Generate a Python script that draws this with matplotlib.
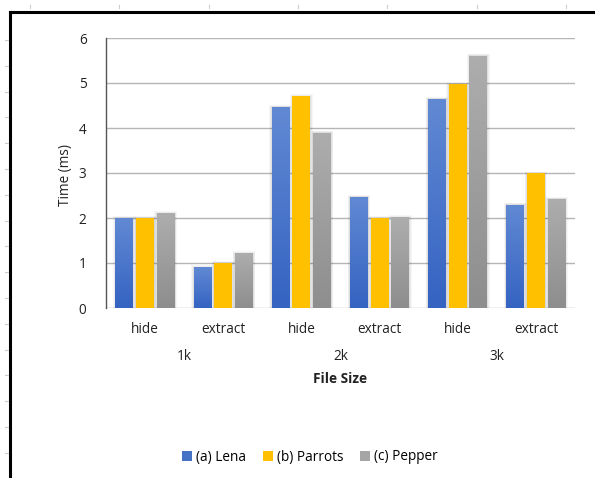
import numpy as np
import matplotlib
matplotlib.use("Agg")
import matplotlib.pyplot as plt
from matplotlib.lines import Line2D
from matplotlib.patches import Rectangle
from matplotlib.colors import LinearSegmentedColormap

plt.rcParams['font.family'] = ['Open Sans', 'DejaVu Sans']

operations = ["hide", "extract", "hide", "extract", "hide", "extract"]
file_sizes = ["1k", "2k", "3k"]
series_names = ["(a) Lena", "(b) Parrots", "(c) Pepper"]
lena = [2.00, 0.91, 4.47, 2.47, 4.65, 2.30]
parrots = [2.00, 1.00, 4.71, 2.00, 4.97, 2.99]
pepper = [2.11, 1.22, 3.90, 2.02, 5.61, 2.43]
y_ticks = [0, 1, 2, 3, 4, 5, 6]

series = [lena, parrots, pepper]
# (top colour, bottom colour) for each series gradient
grads = [("#6189D3", "#3563C2"), ("#FFC000", "#FFC000"), ("#ADADAD", "#8E8E8E")]
legend_colors = ["#4472C4", "#FFC000", "#A5A5A5"]

W, H = 595, 478
FS = 9.8
TXT = "#222222"
fig = plt.figure(figsize=(W / 100, H / 100), dpi=100)
ax = fig.add_axes([106 / W, 1 - 308 / H, (575 - 106) / W, (308 - 38) / H])

n = len(operations)
x = np.arange(n)
bw = 0.23
step = 0.265

def grad_bar(ax, x0, h, c_top, c_bot):
    # soft shadow
    for k, a in enumerate([0.035, 0.04, 0.05]):
        pad = 0.03 - k * 0.01
        ax.add_patch(Rectangle((x0 - pad, 0), bw + 2 * pad, h + pad * 1.2,
                               facecolor="black", edgecolor="none", alpha=a, zorder=2))
    rect = Rectangle((x0, 0), bw, h, facecolor="none", edgecolor="none", zorder=3)
    ax.add_patch(rect)
    cmap = LinearSegmentedColormap.from_list("g", [c_bot, c_top])
    grad = np.linspace(0, 1, 64).reshape(-1, 1)
    im = ax.imshow(grad, cmap=cmap, aspect="auto", origin="lower",
                   extent=(x0, x0 + bw, 0, h), zorder=3, interpolation="bilinear")
    im.set_clip_path(rect)

for si, vals in enumerate(series):
    for i, v in enumerate(vals):
        x0 = x[i] + (si - 1) * step - bw / 2
        grad_bar(ax, x0, v, *grads[si])

ax.set_xlim(-0.5, n - 0.5)
ax.set_ylim(0, 6)
ax.set_yticks(y_ticks)
ax.set_yticklabels([str(t) for t in y_ticks], fontsize=FS, color=TXT)
ax.set_xticks(x)
ax.set_xticklabels(operations, fontsize=FS, color=TXT)
ax.tick_params(axis="y", length=0, pad=14)
ax.tick_params(axis="x", length=0, pad=10)
ax.grid(axis="y", color="#B5B5B5", linewidth=1.0, zorder=0)
ax.set_axisbelow(True)
for s in ["top", "right", "bottom"]:
    ax.spines[s].set_visible(False)
ax.spines["left"].set_color("#555555")
ax.spines["left"].set_linewidth(1.0)
ax.spines["left"].set_zorder(5)

# group labels under each pair of operations
for gi, g in enumerate(file_sizes):
    ax.text(2 * gi + 0.5, -(357 - 308) / 270, g, transform=ax.get_xaxis_transform(),
            ha="center", va="center", fontsize=FS, color=TXT)
fig.text(340 / W, 1 - 379 / H, "File Size", ha="center", va="center",
         fontsize=FS, fontweight="bold", color=TXT)
fig.text(66 / W, 1 - 175 / H, "Time (ms)", ha="center", va="center",
         rotation=90, fontsize=FS, color=TXT)

handles = [Rectangle((0, 0), 1, 1, facecolor=c, edgecolor="none") for c in legend_colors]
fig.legend(handles, series_names, loc="center", bbox_to_anchor=(310 / W, 1 - 457 / H),
           ncol=3, frameon=False, fontsize=FS, handlelength=0.75, handleheight=0.75,
           handletextpad=0.3, columnspacing=1.2)

# outer frame
fig.add_artist(Line2D([10 / W, 10 / W], [0, 1 - 12 / H], color="black", linewidth=2.2,
                      transform=fig.transFigure, solid_capstyle="projecting"))
fig.add_artist(Line2D([10 / W, 1], [1 - 12 / H, 1 - 12 / H], color="black", linewidth=2.2,
                      transform=fig.transFigure, solid_capstyle="projecting"))
# faint ruler ticks
for tx in np.arange(30, W, 89.3):
    fig.add_artist(Line2D([tx / W, tx / W], [1 - 5 / H, 1 - 8 / H], color="#CCCCCC",
                          linewidth=0.8, transform=fig.transFigure))
for ty in np.arange(40, H, 25.8):
    fig.add_artist(Line2D([5 / W, 8 / W], [1 - ty / H, 1 - ty / H], color="#CCCCCC",
                          linewidth=0.8, transform=fig.transFigure))

fig.savefig("out.png", dpi=100)
